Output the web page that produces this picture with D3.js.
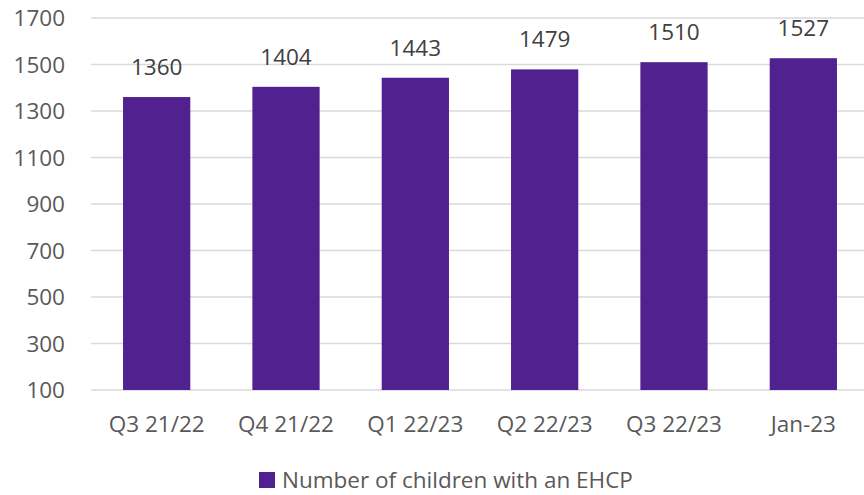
<!DOCTYPE html>
<html><head><meta charset="utf-8">
<script src="https://cdn.jsdelivr.net/npm/d3@7"></script>
<style>body{margin:0;background:#fff}svg{display:block}</style>
</head><body><svg id="c" width="864" height="495"></svg>
<script>
const categories = ["Q3 21/22","Q4 21/22","Q1 22/23","Q2 22/23","Q3 22/23","Jan-23"];
const values = [1360,1404,1443,1479,1510,1527];
const yTicks = [100,300,500,700,900,1100,1300,1500,1700];
const seriesName = "Number of children with an EHCP";

const svg = d3.select("#c");
const font = "Open Sans, sans-serif";
const fs = 22.5;
const x = d3.scaleBand().domain(categories).range([92,868]).paddingInner(0.48).paddingOuter(0.24);
const y = d3.scaleLinear().domain([100,1700]).range([390,18]);

svg.append("g").selectAll("line").data(yTicks).join("line")
  .attr("x1",91).attr("x2",864).attr("y1",d=>y(d)).attr("y2",d=>y(d))
  .attr("stroke","#d9d9d9").attr("stroke-width",1.5);

svg.append("g").selectAll("text").data(yTicks).join("text")
  .attr("x",65).attr("y",d=>y(d)).attr("dy","0.36em").attr("text-anchor","end")
  .attr("font-family",font).attr("font-size",fs).attr("fill","#595959").text(d=>d);

svg.append("g").selectAll("rect").data(values).join("rect")
  .attr("x",(d,i)=>x(categories[i])).attr("width",x.bandwidth())
  .attr("y",d=>y(d)).attr("height",d=>y(100)-y(d)).attr("fill","#51218f");

svg.append("g").selectAll("text").data(values).join("text")
  .attr("x",(d,i)=>x(categories[i])+x.bandwidth()/2).attr("y",d=>y(d)-22)
  .attr("text-anchor","middle").attr("font-family",font).attr("font-size",fs)
  .attr("fill","#404040").text(d=>d);

svg.append("g").selectAll("text").data(categories).join("text")
  .attr("x",d=>x(d)+x.bandwidth()/2).attr("y",432)
  .attr("text-anchor","middle").attr("font-family",font).attr("font-size",fs)
  .attr("fill","#595959").text(d=>d);

const lg = svg.append("g");
lg.append("rect").attr("x",259).attr("y",472).attr("width",16).attr("height",16).attr("fill","#51218f");
lg.append("text").attr("x",282).attr("y",480).attr("dy","0.36em").attr("font-family",font)
  .attr("font-size",fs).attr("fill","#595959").text(seriesName);
</script></body></html>
